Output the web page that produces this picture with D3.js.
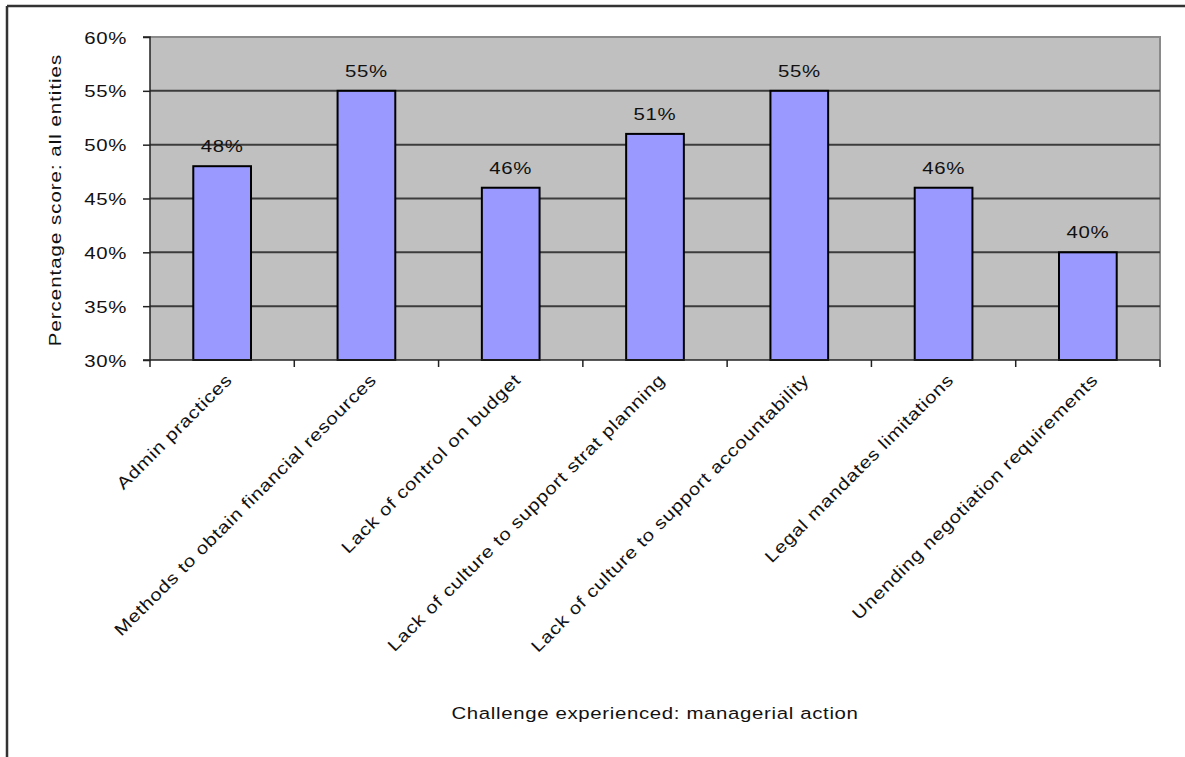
<!DOCTYPE html>
<html>
<head>
<meta charset="utf-8">
<script src="https://cdn.jsdelivr.net/npm/d3@7"></script>
<style>
  html, body { margin: 0; padding: 0; background: #fff; }
  svg text { font-family: Arial, "Liberation Sans", sans-serif; fill: #111; }
</style>
</head>
<body>
<svg id="chart" width="1185" height="757"></svg>
<script>
// Challenge categories and their percentage scores
const categories = [
  "Admin practices",
  "Methods to obtain financial resources",
  "Lack of control on budget",
  "Lack of culture to support strat planning",
  "Lack of culture to support accountability",
  "Legal mandates limitations",
  "Unending negotiation requirements"
];
const scores = [0.48, 0.55, 0.46, 0.51, 0.55, 0.46, 0.40];
const yTicks = [0.30, 0.35, 0.40, 0.45, 0.50, 0.55, 0.60];
const yTitle = "Percentage score: all entities";
const xTitle = "Challenge experienced: managerial action";

// Text is set in a wide face: Arial widened along its baseline
const FONT = 17;
const WIDEN = "scale(1.2,1)";
const SPACING = 0.55;

const svg = d3.select("#chart");
const plot = { left: 150, top: 37, right: 1160, bottom: 360 };

// Outer frame (top and left edges)
svg.append("line").attr("x1", 7).attr("x2", 1185).attr("y1", 6).attr("y2", 6)
  .attr("stroke", "#333").attr("stroke-width", 2.5);
svg.append("line").attr("x1", 7).attr("x2", 7).attr("y1", 6).attr("y2", 757)
  .attr("stroke", "#333").attr("stroke-width", 2.5);

const x = d3.scaleBand().domain(categories).range([plot.left, plot.right]).paddingInner(0).paddingOuter(0);
const y = d3.scaleLinear().domain([0.30, 0.60]).range([plot.bottom, plot.top]);
const pct = d3.format(".0%");

// Plot background
svg.append("rect")
  .attr("x", plot.left).attr("y", plot.top)
  .attr("width", plot.right - plot.left).attr("height", plot.bottom - plot.top)
  .attr("fill", "#c0c0c0");
svg.append("path")
  .attr("d", `M${plot.left},${plot.top}H${plot.right}V${plot.bottom}`)
  .attr("fill", "none").attr("stroke", "#8a8a8a").attr("stroke-width", 2);

// Horizontal gridlines
svg.append("g").selectAll("line")
  .data(yTicks.slice(1, -1))
  .join("line")
  .attr("x1", plot.left).attr("x2", plot.right)
  .attr("y1", d => y(d)).attr("y2", d => y(d))
  .attr("stroke", "#3c3c3c").attr("stroke-width", 2);

// Bars
const barW = x.bandwidth() * 0.40;
svg.append("g").selectAll("rect")
  .data(scores)
  .join("rect")
  .attr("x", (d, i) => x(categories[i]) + (x.bandwidth() - barW) / 2)
  .attr("y", d => y(d))
  .attr("width", barW)
  .attr("height", d => y(0.30) - y(d))
  .attr("fill", "#9999ff")
  .attr("stroke", "#000").attr("stroke-width", 2);

// Value labels
svg.append("g").selectAll("text")
  .data(scores)
  .join("text")
  .attr("transform", (d, i) => `translate(${x(categories[i]) + x.bandwidth() / 2},${y(d) - 14}) ${WIDEN}`)
  .attr("text-anchor", "middle")
  .attr("font-size", FONT)
  .attr("letter-spacing", SPACING)
  .text(d => pct(d));

// Y axis
const yAxis = d3.axisLeft(y).tickValues(yTicks).tickFormat(pct).tickSize(7).tickPadding(17);
const gy = svg.append("g").attr("transform", `translate(${plot.left},0)`).call(yAxis);
gy.select(".domain").attr("stroke", "#222").attr("stroke-width", 1.5).attr("d", `M-7,${plot.top}H0V${plot.bottom}H-7`);
gy.selectAll(".tick line").attr("stroke", "#222").attr("stroke-width", 1.5);
gy.selectAll(".tick text")
  .attr("x", 0).attr("dy", "0.36em")
  .attr("transform", `translate(-23,0) ${WIDEN}`)
  .attr("font-size", FONT).attr("letter-spacing", SPACING)
  .attr("font-family", "Arial, 'Liberation Sans', sans-serif").attr("fill", "#111");

// X axis: ticks fall on category boundaries
const bounds = categories.map(c => x(c)).concat([plot.right]);
const gx = svg.append("g");
gx.append("line").attr("x1", plot.left).attr("x2", plot.right)
  .attr("y1", plot.bottom).attr("y2", plot.bottom)
  .attr("stroke", "#222").attr("stroke-width", 1.5);
gx.selectAll(".tk").data(bounds).join("line").attr("class", "tk")
  .attr("x1", d => d).attr("x2", d => d)
  .attr("y1", plot.bottom).attr("y2", plot.bottom + 7)
  .attr("stroke", "#222").attr("stroke-width", 1.5);

// Rotated category labels
svg.append("g").selectAll("text")
  .data(categories)
  .join("text")
  .attr("transform", d => `translate(${x(d) + x.bandwidth() / 2 + 11},${plot.bottom + 21}) rotate(-45) ${WIDEN}`)
  .attr("text-anchor", "end")
  .attr("font-size", FONT)
  .attr("letter-spacing", SPACING)
  .text(d => d);

// Axis titles
svg.append("text")
  .attr("transform", `translate(61,200) rotate(-90) ${WIDEN}`)
  .attr("text-anchor", "middle")
  .attr("font-size", FONT)
  .attr("letter-spacing", SPACING + 0.3)
  .text(yTitle);
svg.append("text")
  .attr("transform", `translate(655,719) ${WIDEN}`)
  .attr("text-anchor", "middle")
  .attr("font-size", FONT)
  .attr("letter-spacing", SPACING)
  .text(xTitle);
</script>
</body>
</html>
